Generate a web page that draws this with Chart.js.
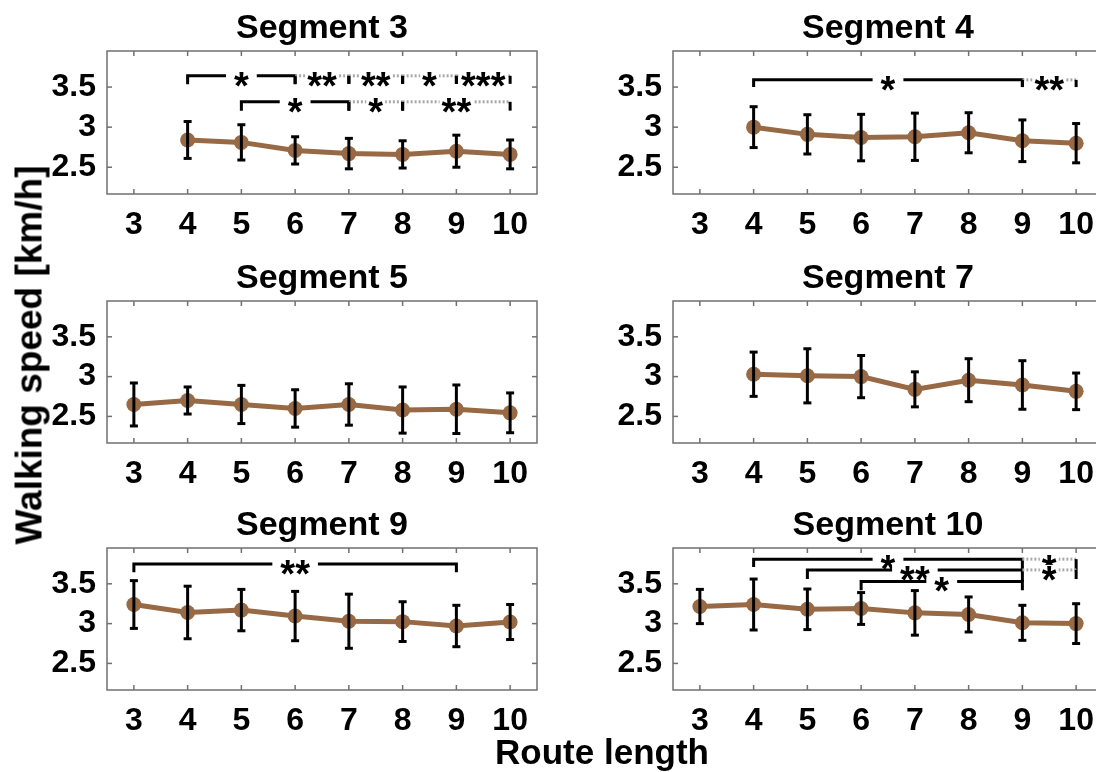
<!DOCTYPE html>
<html>
<head>
<meta charset="utf-8">
<script src="https://cdn.jsdelivr.net/npm/chart.js@4.4.0/dist/chart.umd.min.js"></script>
<style>
    html, body { margin: 0; padding: 0; background: #fff; }
    #wrap { position: relative; width: 1096px; height: 772px; overflow: hidden; }
    .panel { position: absolute; }
    .lbl { position: absolute; font-family: 'Liberation Sans', Arial, sans-serif; font-weight: bold; color: #000; white-space: nowrap; }
    #ylab { left: 29px; top: 355px; font-size: 37px; line-height: 37px; transform: translate(-50%, -50%) rotate(-90deg); }
    #xlab { left: 602px; top: 734px; font-size: 35px; line-height: 35px; transform: translateX(-50%); }
</style>
</head>
<body>
<div id="wrap">
    <canvas id="seg3" class="panel" width="560" height="244" style="left:0px;top:0px"></canvas>
    <canvas id="seg4" class="panel" width="560" height="244" style="left:566px;top:0px"></canvas>
    <canvas id="seg5" class="panel" width="560" height="243" style="left:0px;top:250px"></canvas>
    <canvas id="seg7" class="panel" width="560" height="243" style="left:566px;top:250px"></canvas>
    <canvas id="seg9" class="panel" width="560" height="243" style="left:0px;top:497px"></canvas>
    <canvas id="seg10" class="panel" width="560" height="243" style="left:566px;top:497px"></canvas>
    <div id="ylab" class="lbl">Walking speed [km/h]</div>
    <div id="xlab" class="lbl">Route length</div>
</div>
<script>
    const routeLengths = [3, 4, 5, 6, 7, 8, 9, 10];
    const yTickValues = [2.5, 3, 3.5];
    const yTickLabels = ['2.5', '3', '3.5'];

    const seg3Mean = [null, 2.84, 2.81, 2.71, 2.67, 2.66, 2.70, 2.66];
    const seg3Sd = [null, 0.23, 0.22, 0.17, 0.19, 0.17, 0.20, 0.18];
    const seg4Mean = [null, 3.00, 2.91, 2.87, 2.88, 2.93, 2.83, 2.80];
    const seg4Sd = [null, 0.255, 0.245, 0.29, 0.295, 0.25, 0.26, 0.245];
    const seg5Mean = [2.65, 2.70, 2.65, 2.60, 2.65, 2.58, 2.59, 2.545];
    const seg5Sd = [0.27, 0.17, 0.24, 0.235, 0.26, 0.29, 0.305, 0.25];
    const seg7Mean = [null, 3.03, 3.01, 3.00, 2.84, 2.955, 2.895, 2.815];
    const seg7Sd = [null, 0.278, 0.34, 0.265, 0.22, 0.27, 0.305, 0.23];
    const seg9Mean = [3.24, 3.14, 3.17, 3.095, 3.03, 3.025, 2.97, 3.02];
    const seg9Sd = [0.30, 0.33, 0.26, 0.31, 0.34, 0.25, 0.26, 0.22];
    const seg10Mean = [3.215, 3.24, 3.18, 3.19, 3.135, 3.115, 3.01, 3.00];
    const seg10Sd = [0.215, 0.32, 0.255, 0.20, 0.28, 0.22, 0.22, 0.25];

    // significance brackets: from, to, level, drop at each end, label, dotted
    const seg3Sig = [
        { from: 4, to: 6, y: 3.64, dropL: 0.105, dropR: 0.105, text: '*', dotted: false },
        { from: 6, to: 7, y: 3.64, dropL: 0.1, dropR: 0.1, text: '**', dotted: true },
        { from: 7, to: 8, y: 3.64, dropL: 0.1, dropR: 0.1, text: '**', dotted: true },
        { from: 8, to: 9, y: 3.64, dropL: 0.1, dropR: 0.1, text: '*', dotted: true },
        { from: 9, to: 10, y: 3.64, dropL: 0.1, dropR: 0.1, text: '***', dotted: true },
        { from: 5, to: 7, y: 3.316, dropL: 0.11, dropR: 0.11, text: '*', dotted: false },
        { from: 7, to: 8, y: 3.316, dropL: 0.11, dropR: 0.11, text: '*', dotted: true },
        { from: 8, to: 10, y: 3.316, dropL: 0.11, dropR: 0.11, text: '**', dotted: true }
    ];
    const seg4Sig = [
        { from: 4, to: 9, y: 3.59, dropL: 0.09, dropR: 0.09, text: '*', dotted: false },
        { from: 9, to: 10, y: 3.59, dropL: 0.09, dropR: 0.09, text: '**', dotted: true }
    ];
    const seg9Sig = [
        { from: 3, to: 9, y: 3.75, dropL: 0.105, dropR: 0.105, text: '**', dotted: false }
    ];
    const seg10Sig = [
        { from: 4, to: 9, y: 3.81, dropL: 0.1, dropR: 0.135, text: '*', dotted: false },
        { from: 5, to: 9, y: 3.675, dropL: 0.115, dropR: 0.145, text: '**', dotted: false },
        { from: 6, to: 9, y: 3.53, dropL: 0.11, dropR: 0.11, text: '*', dotted: false },
        { from: 9, to: 10, y: 3.81, dropL: 0, dropR: 0.135, text: '*', dotted: true },
        { from: 9, to: 10, y: 3.675, dropL: 0, dropR: 0.115, text: '*', dotted: true }
    ];

    const fontFamily = "'Liberation Sans', Arial, Helvetica, sans-serif";
    const lineColor = '#976a45';
    Chart.defaults.font.family = fontFamily;
    Chart.defaults.font.weight = 'bold';
    Chart.defaults.color = '#000';

    function line(ctx, x1, y1, x2, y2) {
        ctx.beginPath();
        ctx.moveTo(x1, y1);
        ctx.lineTo(x2, y2);
        ctx.stroke();
    }

    function figurePlugin(title, mean, sd, sig) {
        return {
            id: 'figure',
            beforeDatasetsDraw(chart) {
                let ctx = chart.ctx;
                let a = chart.chartArea;
                let xs = chart.scales.x, ys = chart.scales.y;
                ctx.save();
                ctx.strokeStyle = '#707070';
                ctx.lineWidth = 1.5;
                ctx.strokeRect(a.left, a.top, a.right - a.left, a.bottom - a.top);
                routeLengths.forEach(v => {
                    let px = xs.getPixelForValue(v);
                    line(ctx, px, a.bottom, px, a.bottom - 5);
                    line(ctx, px, a.top, px, a.top + 5);
                });
                yTickValues.forEach(v => {
                    let py = ys.getPixelForValue(v);
                    line(ctx, a.left, py, a.left + 5, py);
                    line(ctx, a.right, py, a.right - 5, py);
                });
                ctx.restore();
            },
            afterDatasetsDraw(chart) {
                let ctx = chart.ctx;
                let xs = chart.scales.x, ys = chart.scales.y;
                ctx.save();
                // error bars
                ctx.strokeStyle = '#000';
                ctx.lineWidth = 3;
                mean.forEach((m, i) => {
                    if (m == null) return;
                    let px = xs.getPixelForValue(routeLengths[i]);
                    let yt = ys.getPixelForValue(m + sd[i]);
                    let yb = ys.getPixelForValue(m - sd[i]);
                    line(ctx, px, yt, px, yb);
                    line(ctx, px - 4, yt, px + 4, yt);
                    line(ctx, px - 4, yb, px + 4, yb);
                });
                // brackets
                sig.forEach(b => {
                    let x1 = xs.getPixelForValue(b.from), x2 = xs.getPixelForValue(b.to);
                    let y = ys.getPixelForValue(b.y);
                    let yl = ys.getPixelForValue(b.y - b.dropL), yr = ys.getPixelForValue(b.y - b.dropR);
                    ctx.lineWidth = 3;
                    if (b.dotted) {
                        ctx.strokeStyle = '#a8a8a8';
                        ctx.setLineDash([2, 2]);
                        line(ctx, x1, y, x2, y);
                        ctx.setLineDash([]);
                        ctx.strokeStyle = '#000';
                        if (b.dropL) line(ctx, x1, y, x1, yl);
                        if (b.dropR) line(ctx, x2, y, x2, yr);
                    } else {
                        ctx.strokeStyle = '#000';
                        ctx.beginPath();
                        ctx.moveTo(x1, yl);
                        ctx.lineTo(x1, y);
                        ctx.lineTo(x2, y);
                        ctx.lineTo(x2, yr);
                        ctx.stroke();
                    }
                });
                ctx.font = 'bold 38px ' + fontFamily;
                ctx.textAlign = 'center';
                ctx.textBaseline = 'alphabetic';
                sig.forEach(b => {
                    let xm = xs.getPixelForValue((b.from + b.to) / 2);
                    let y = ys.getPixelForValue(b.y);
                    let w = ctx.measureText(b.text).width;
                    let pad = b.dotted ? 2 : 8;
                    ctx.fillStyle = '#fff';
                    ctx.fillRect(xm - w / 2 - pad, y - 5, w + pad * 2, 10);
                    ctx.fillStyle = '#000';
                    ctx.fillText(b.text, xm, y + 23);
                });
                ctx.restore();
            },
            afterDraw(chart) {
                let ctx = chart.ctx;
                let a = chart.chartArea;
                ctx.save();
                ctx.font = 'bold 34px ' + fontFamily;
                ctx.fillStyle = '#000';
                ctx.textAlign = 'center';
                ctx.textBaseline = 'alphabetic';
                ctx.fillText(title, (a.left + a.right) / 2, a.top - 13);
                ctx.restore();
            }
        };
    }

    function makeSegmentChart(id, title, mean, sd, sig) {
        return new Chart(document.getElementById(id), {
            type: 'line',
            data: {
                datasets: [{
                    label: title,
                    data: routeLengths.map((x, i) => ({ x: x, y: mean[i] })),
                    borderColor: lineColor,
                    backgroundColor: lineColor,
                    borderWidth: 5,
                    pointRadius: 7.5,
                    pointHoverRadius: 7.5,
                    pointBorderWidth: 0,
                    pointBackgroundColor: lineColor,
                    tension: 0
                }]
            },
            options: {
                responsive: false,
                animation: false,
                events: [],
                layout: { padding: { top: 51, right: 23, bottom: 0, left: 0 } },
                plugins: { legend: { display: false }, tooltip: { enabled: false } },
                scales: {
                    x: {
                        type: 'linear',
                        min: 2.5,
                        max: 10.5,
                        afterBuildTicks: s => { s.ticks = routeLengths.map(v => ({ value: v })); },
                        afterFit: s => { s.height = 50; },
                        grid: { display: false },
                        border: { display: false },
                        ticks: {
                            font: { size: 32, weight: 'bold' },
                            color: '#000',
                            padding: 4,
                            maxRotation: 0,
                            autoSkip: false,
                            callback: v => String(v)
                        }
                    },
                    y: {
                        type: 'linear',
                        min: 2.166,
                        max: 3.95,
                        afterBuildTicks: s => { s.ticks = yTickValues.map(v => ({ value: v })); },
                        afterFit: s => { s.width = 107; },
                        grid: { display: false },
                        border: { display: false },
                        ticks: {
                            font: { size: 32, weight: 'bold' },
                            color: '#000',
                            padding: 3,
                            callback: v => yTickLabels[yTickValues.indexOf(v)]
                        }
                    }
                }
            },
            plugins: [figurePlugin(title, mean, sd, sig)]
        });
    }

    makeSegmentChart('seg3', 'Segment 3', seg3Mean, seg3Sd, seg3Sig);
    makeSegmentChart('seg4', 'Segment 4', seg4Mean, seg4Sd, seg4Sig);
    makeSegmentChart('seg5', 'Segment 5', seg5Mean, seg5Sd, []);
    makeSegmentChart('seg7', 'Segment 7', seg7Mean, seg7Sd, []);
    makeSegmentChart('seg9', 'Segment 9', seg9Mean, seg9Sd, seg9Sig);
    makeSegmentChart('seg10', 'Segment 10', seg10Mean, seg10Sd, seg10Sig);
</script>
</body>
</html>
